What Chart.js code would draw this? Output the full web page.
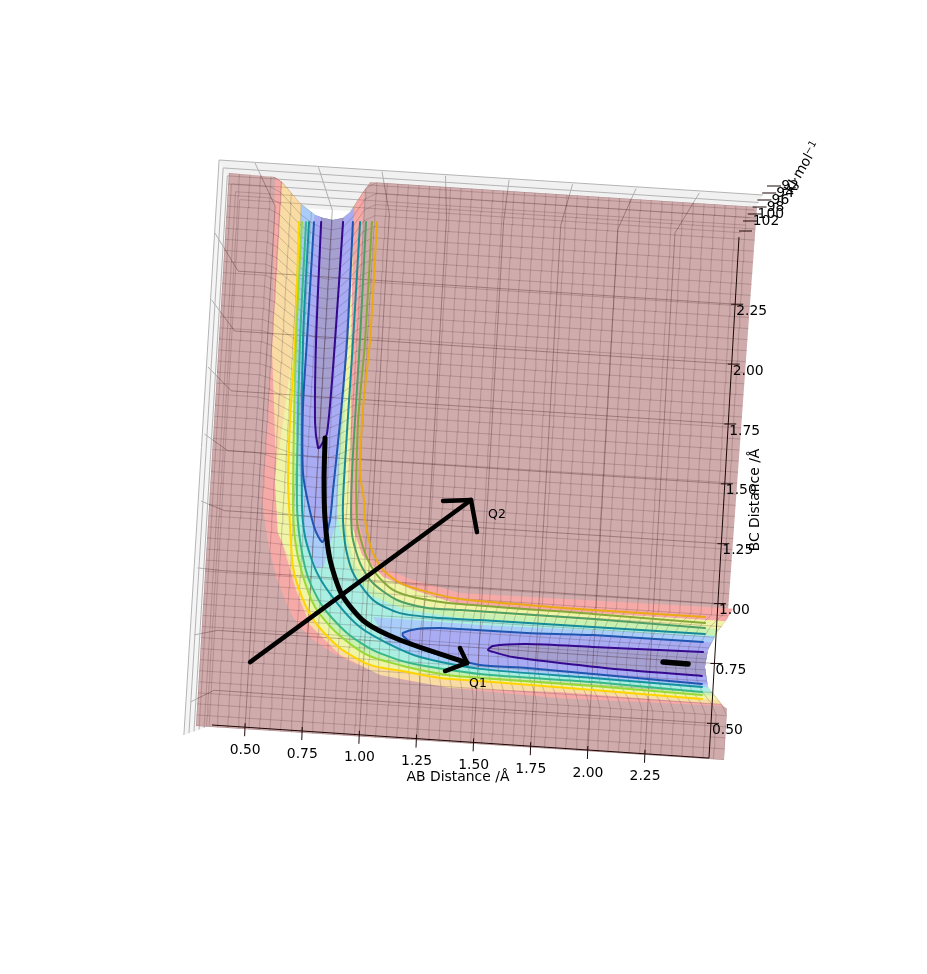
<!DOCTYPE html>
<html><head><meta charset="utf-8">
<style>html,body{margin:0;padding:0;background:#fff}canvas{display:block}</style>
<script src="https://cdn.jsdelivr.net/npm/chart.js@4"></script>
</head><body><canvas id="c" width="927" height="974"></canvas>
<script>
// ---- tick labels ----
const abTicks=[0.5,0.75,1,1.25,1.5,1.75,2,2.25];
const bcTicks=[0.5,0.75,1,1.25,1.5,1.75,2,2.25];
const zTicks=[92,94,96,98,100,102];
const abWallU=[.543,.821,1.099,1.377,1.655,1.933,2.211,2.488];
const abWallV=[2.702,2.684,2.666,2.648,2.631,2.613,2.595,2.577];
const bcWallU=[.261,.276,.292,.307,.322,.337,.353,.368];
const bcWallV=[.451,.731,1.011,1.29,1.57,1.85,2.13,2.409];
const paneCorners={outerTL:[.386,2.714],outerTR:[2.766,2.568],floorTR:[2.661,2.393],floorTL:[.486,2.53],floorBL:[.355,.355],outerBL:[.232,.313]};

// ---- surface outline, AB / BC distance in Angstrom ----
const topNotch=[[.538,2.496],[.568,2.478],[.646,2.401],[.71,2.359],[.743,2.349],[.784,2.344],[.824,2.354],[.851,2.379],[.899,2.46],[.925,2.5]];
const rightNotch=[[2.5,.55],[2.483,.559],[2.417,.629],[2.4,.705],[2.408,.772],[2.441,.844],[2.47,.885],[2.48,.9]];

// ---- contours: lower/left side and upper/right side of the valley ----
const level0Low=[[.646,2.328],[.659,1.87],[.658,1.558],[.664,1.326],[.674,1.229],[.705,.99],[.749,.876],[.808,.782],[.915,.688],[1.041,.63],[1.193,.612],[1.328,.597],[1.491,.595],[1.952,.588],[2.396,.581]];
const level0Up=[[.963,2.347],[.963,1.888],[.951,1.627],[.954,1.371],[.977,1.267],[.986,1.19],[1.021,1.075],[1.071,1.001],[1.143,.955],[1.255,.927],[1.39,.908],[1.663,.901],[1.932,.898],[2.388,.899]];
const level1Low=[[.658,2.328],[.663,1.87],[.689,1.25],[.707,1.095],[.743,.969],[.804,.841],[.899,.745],[1.027,.668],[1.192,.631],[1.356,.61],[1.49,.607],[1.951,.604],[2.395,.596]];
const level1Up=[[.942,2.346],[.943,1.887],[.934,1.564],[.953,1.188],[.994,1.062],[1.048,.98],[1.116,.926],[1.216,.901],[1.391,.888],[1.933,.883],[2.39,.876]];
const level2Low=[[.675,2.329],[.679,1.871],[.705,1.25],[.727,1.096],[.768,.955],[.836,.843],[.94,.748],[1.05,.688],[1.203,.647],[1.489,.622],[1.95,.619],[2.394,.608]];
const level2Up=[[.918,2.344],[.922,1.886],[.922,1.369],[.936,1.136],[.976,1.022],[1.033,.948],[1.135,.888],[1.259,.865],[1.393,.865],[1.934,.863],[2.391,.856]];
const level3Low=[[.687,2.33],[.691,1.872],[.725,1.252],[.747,1.109],[.804,.973],[.892,.862],[.991,.774],[1.105,.719],[1.242,.673],[1.488,.642],[1.949,.635],[2.393,.627]];
const level3Up=[[.894,2.343],[.894,1.884],[.892,1.262],[.91,1.096],[.95,.982],[1.038,.882],[1.15,.838],[1.314,.829],[1.476,.831],[1.936,.832],[2.392,.833]];
const level4Vert=[[.707,2.331],[.707,1.873],[.707,1.612],[.723,1.357],[.751,1.242],[.786,1.139],[.817,1.094],[.828,1.11],[.844,1.181],[.849,1.298],[.861,1.559],[.87,1.883],[.865,2.341]];
const level4Horiz=[[2.386,.802],[1.938,.801],[1.67,.793],[1.397,.791],[1.316,.79],[1.223,.781],[1.167,.762],[1.168,.75],[1.227,.711],[1.294,.692],[1.376,.674],[1.487,.657],[1.679,.657],[1.948,.65],[2.392,.639]];
const level5Vert=[[.736,2.333],[.744,1.875],[.76,1.553],[.778,1.457],[.786,1.462],[.811,1.517],[.821,1.88],[.825,2.339]];
const level5Horiz=[[2.389,.763],[1.941,.755],[1.673,.75],[1.535,.734],[1.516,.717],[1.537,.711],[1.619,.696],[1.811,.685],[2.085,.674],[2.39,.67]];

// ---- coloured facet bands of the surface ----
const salmonLow=[[.538,2.496],[.568,1.825],[.564,1.358],[.563,1.242],[.598,1.077],[.639,.947],[.681,.86],[.717,.796],[.761,.748],[.804,.712],[.888,.667],[.972,.633],[1.179,.58],[1.453,.558],[1.82,.548],[2.483,.559]];
const salmonUp=[[.904,2.312],[.917,1.847],[.958,1.188],[1.006,1.055],[1.07,1.009],[1.195,.97],[1.389,.931],[2.398,.938]];
const tanLow=[[.568,2.478],[.568,1.825],[.622,1.273],[.659,1.073],[.723,.902],[.788,.77],[.917,.661],[1.084,.593],[1.371,.56],[1.818,.572],[2.47,.565]];
const tanUp=[[.867,2.31],[.888,1.845],[.925,1.186],[.982,1.054],[1.073,.974],[1.197,.931],[1.392,.884],[2.409,.888]];
const yellowLow=[[.65,2.4],[.655,1.87],[.63,1.55],[.61,1.33],[.635,1.12],[.705,.99],[.749,.876],[.808,.782],[.915,.688],[1.041,.63],[1.193,.612],[1.328,.597],[1.491,.595],[1.952,.588],[2.396,.581]];
const greenUp=[[.855,2.37],[.865,1.882],[.897,1.184],[.956,1.013],[1.043,.921],[1.168,.878],[1.393,.857],[2.391,.856]];
const cyanUp=[[.84,2.37],[.845,1.88],[.875,1.19],[.93,1],[1.03,.9],[1.16,.855],[1.39,.835],[2.39,.83]];
const blueVert=[[.652,2.38],[.664,1.872],[.68,1.55],[.725,1.252],[.747,1.109],[.8,.99],[.83,1],[.872,1.183],[.849,1.881],[.82,2.36]];
const blueHoriz=[[2.39,.825],[1.94,.82],[1.478,.812],[1.042,.816],[1.105,.719],[1.242,.673],[1.488,.642],[1.949,.635],[2.393,.627]];

// ---- hand-drawn reaction path and arrows ----
const pathCurve=[[.804,1.498],[.81,1.335],[.824,1.18],[.854,1.026],[.911,.894],[1.01,.795],[1.157,.734],[1.434,.662]];
const q1Head=[[1.402,.718],[1.434,.662],[1.347,.625]];
const q2Shaft=[[.554,.611],[1.411,1.294]];
const q2Head=[[1.298,1.283],[1.411,1.294],[1.443,1.171]];
const endMark=[[2.229,.714],[2.331,.713]];

// ---- view tilt ----
const tilt=([a,b])=>({x:a+.0623*(b-.35),y:b-.0614*(a-.35)});
const floorPt=(ab,bc)=>({x:ab+.0604*(bc-.355),y:bc-.0635*(ab-.355)});
const rawPt=([u,v])=>({x:u,y:v});
const lerp=(p,q,t)=>[p[0]+(q[0]-p[0])*t,p[1]+(q[1]-p[1])*t];
function lookup(tbl,k,vi){
  const ki=1-vi;
  if(k<=tbl[0][ki])return tbl[0][vi];
  for(let i=1;i<tbl.length;i++) if(k<=tbl[i][ki]){const t=(k-tbl[i-1][ki])/(tbl[i][ki]-tbl[i-1][ki]);return tbl[i-1][vi]+t*(tbl[i][vi]-tbl[i-1][vi]);}
  return tbl[tbl.length-1][vi];
}
const topEdge=a=>(a<topNotch[0][0]||a>topNotch[topNotch.length-1][0])?2.5:lookup(topNotch,a,1);
const rightEdge=b=>(b<rightNotch[0][1]||b>rightNotch[rightNotch.length-1][1])?2.5:lookup(rightNotch,b,0);

function band(low,up){
  const l0=low[0],l1=low[low.length-1],u0=up[0],u1=up[up.length-1];
  const rn=rightNotch.filter(p=>p[1]>l1[1]&&p[1]<u1[1]);
  const tn=topNotch.filter(p=>p[0]>l0[0]&&p[0]<u0[0]).reverse();
  return [[l0[0],topEdge(l0[0])],...low,[rightEdge(l1[1]),l1[1]],...rn,[rightEdge(u1[1]),u1[1]],...up.slice().reverse(),[u0[0],topEdge(u0[0])],...tn];
}
function tongueTop(p){
  const s=p[0],e=p[p.length-1];
  const tn=topNotch.filter(q=>q[0]>s[0]&&q[0]<e[0]).reverse();
  return [[s[0],topEdge(s[0])],...p,[e[0],topEdge(e[0])],...tn];
}
function tongueRight(p){
  const s=p[0],e=p[p.length-1];
  const rn=rightNotch.filter(q=>q[1]>e[1]&&q[1]<s[1]);
  return [[rightEdge(s[1]),s[1]],...p,[rightEdge(e[1]),e[1]],...rn];
}
const surfaceOutline=[[.35,.35],[2.5,.35],[2.5,.55],...rightNotch.slice(1),[2.5,2.5],...topNotch.slice().reverse(),[.35,2.5]];

const datasets=[];
const add=(d)=>{datasets.push(Object.assign({showLine:true,pointRadius:0,borderWidth:0,borderColor:'transparent',xAxisID:'x',yAxisID:'y',tension:0},d));};
const poly=(path,color,label)=>add({label,data:path.map(tilt),polygonFill:color,showLine:false});
const floorPoly=(path,color,label)=>add({label,data:path.map(rawPt),polygonFill:color,showLine:false,xAxisID:'xf',yAxisID:'yf'});
const curve=(path,color,w,label)=>add({label,data:path.map(tilt),borderColor:color,borderWidth:w,tension:.25,borderCapStyle:'round',borderJoinStyle:'round'});
const floorLine=(pts,color,w,label,clip)=>add({label,data:pts,borderColor:color,borderWidth:w,xAxisID:'xf',yAxisID:'yf',clipSurface:!!clip});

const P=paneCorners;
floorPoly([P.outerTL,P.outerTR,P.floorTR,P.floorTL],'#f1f1f1','top pane');
floorPoly([P.outerBL,P.outerTL,P.floorTL,P.floorBL],'#f5f5f5','left pane');
function frames(color,w,clip,prefix){
  zTicks.forEach(z=>{
    const t=(z-92)*.09;
    floorLine([lerp(P.outerBL,P.floorBL,t),lerp(P.outerTL,P.floorTL,t),lerp(P.outerTR,P.floorTR,t)].map(rawPt),color,w,prefix+' z'+z,clip);
  });
}
function gridLines(color,w,clip,prefix){
  abTicks.forEach((k,i)=>floorLine([floorPt(k,.355),floorPt(k,2.53),{x:abWallU[i],y:abWallV[i]}],color,w,prefix+' ab'+k,clip));
  bcTicks.forEach((k,i)=>floorLine([floorPt(2.53,k),floorPt(.355,k),{x:bcWallU[i],y:bcWallV[i]}],color,w,prefix+' bc'+k,clip));
}
frames('#b4b4b4',1,false,'frame');
gridLines('#b0b0b0',1,false,'grid');

poly(surfaceOutline,'#d0abab','surface');
poly(band(salmonLow,salmonUp),'#f6aaa7','salmon band');
poly(band(tanLow,tanUp),'#f8dca3','tan band');
poly(band(yellowLow,tanUp),'#eff4a6','yellow band');
poly(band(level1Low,greenUp),'#c9f2b2','green band');
poly(band(level2Low,cyanUp),'#aaefe2','cyan band');
poly(tongueTop(blueVert),'#a9cdf8','blue band v');
poly(tongueRight(blueHoriz),'#a9cdf8','blue band h');
poly(tongueTop(level4Vert),'#a9acf3','violet band v');
poly(tongueRight(level4Horiz),'#a9acf3','violet band h');
poly(tongueTop(level5Vert),'#a5a0d0','core band v');
poly(tongueRight(level5Horiz),'#a5a0d0','core band h');

const meshStops=Array.from({length:51},(_,i)=>.35+i*.043);
const clamp01=v=>Math.max(0,Math.min(1,v));
const warp=(a,b)=>{
  const b2=b-(2.5-topEdge(a))*clamp01((b-1)/1.5);
  const a2=a-(2.5-rightEdge(b))*clamp01((a-1)/1.5);
  return tilt([a2,b2]);
};
const meshA=[],meshB=[];
meshStops.forEach(s=>{
  meshStops.forEach(t=>{meshA.push(warp(s,t));meshB.push(warp(t,s));});
  meshA.push({x:NaN,y:NaN});meshB.push({x:NaN,y:NaN});
});
add({label:'mesh a',data:meshA,borderColor:'rgba(70,50,60,.33)',borderWidth:.7,spanGaps:false,clipSurface:true});
add({label:'mesh b',data:meshB,borderColor:'rgba(70,50,60,.33)',borderWidth:.7,spanGaps:false,clipSurface:true});

frames('rgba(70,30,30,.2)',1,true,'frame over');
gridLines('rgba(60,25,25,.33)',1,true,'grid over');

curve(level0Low,'#ffd400',2,'contour 0 low');
curve(level0Up,'#eaa915',2,'contour 0 up');
curve(level1Low,'#9ad838',2,'contour 1 low');
curve(level1Up,'#86a83a',2,'contour 1 up');
curve(level2Low,'#38b888',2,'contour 2 low');
curve(level2Up,'#4e9e66',2,'contour 2 up');
curve(level3Low,'#14929f',2,'contour 3 low');
curve(level3Up,'#178a98',2,'contour 3 up');
curve(level4Vert,'#2055b0',2,'contour 4 v');
curve(level4Horiz,'#2055b0',2,'contour 4 h');
curve(level5Vert,'#34098f',2,'contour 5 v');
curve(level5Horiz,'#34098f',2,'contour 5 h');

floorLine([floorPt(.355,.355),floorPt(2.53,.355),floorPt(2.53,2.53)],'#1c0808',1,'axis lines');

curve(pathCurve,'#000',5,'reaction path');
add({label:'Q1 head',data:q1Head.map(tilt),borderColor:'#000',borderWidth:4.5,borderCapStyle:'round',borderJoinStyle:'round'});
add({label:'Q2 shaft',data:q2Shaft.map(tilt),borderColor:'#000',borderWidth:4.5,borderCapStyle:'round'});
add({label:'Q2 head',data:q2Head.map(tilt),borderColor:'#000',borderWidth:4.5,borderCapStyle:'round',borderJoinStyle:'round'});
add({label:'end mark',data:endMark.map(tilt),borderColor:'#000',borderWidth:5.5,borderCapStyle:'round'});

datasets.forEach((d,i)=>{d.order=datasets.length-i;});

function tracePts(ctx,pts){ctx.beginPath();pts.forEach((p,i)=>i?ctx.lineTo(p.x,p.y):ctx.moveTo(p.x,p.y));ctx.closePath();}
const surfacePlugin={id:'surfacePlugin',
  beforeDatasetDraw(chart,args){
    const ds=chart.data.datasets[args.index],ctx=chart.ctx;
    if(ds.polygonFill){ctx.save();tracePts(ctx,args.meta.data);ctx.fillStyle=ds.polygonFill;ctx.fill();ctx.restore();}
    if(ds.clipSurface){
      const idx=chart.data.datasets.findIndex(d=>d.label==='surface');
      ctx.save();tracePts(ctx,chart.getDatasetMeta(idx).data);ctx.clip();
    }
  },
  afterDatasetDraw(chart,args){
    const ds=chart.data.datasets[args.index];
    if(ds.clipSurface)chart.ctx.restore();
  },
  afterDatasetsDraw(chart){
    const ctx=chart.ctx,{xf,yf,zs}=chart.scales;
    const px=p=>[xf.getPixelForValue(p.x),yf.getPixelForValue(p.y)];
    ctx.save();
    ctx.fillStyle='#000';ctx.strokeStyle='#1c0808';ctx.lineWidth=1;
    ctx.font='13.9px "DejaVu Sans"';
    ctx.textBaseline='middle';
    ctx.textAlign='center';
    abTicks.forEach(k=>{
      const [x,y]=px(floorPt(k,.355));
      ctx.beginPath();ctx.moveTo(x,y-4);ctx.lineTo(x-.5,y+9);ctx.stroke();
      ctx.fillText(k.toFixed(2),x,y+23);
    });
    ctx.textAlign='left';
    bcTicks.forEach(k=>{
      const [x,y]=px(floorPt(2.53,k));
      ctx.beginPath();ctx.moveTo(x-4,y);ctx.lineTo(x+8,y);ctx.stroke();
      ctx.fillText(k.toFixed(2),x+1,y+7);
    });
    ctx.textAlign='center';
    zTicks.forEach(z=>{
      const y=zs.getPixelForValue(z);
      const x=766+(102-z)*2.4;
      ctx.beginPath();ctx.moveTo(x-23,y);ctx.lineTo(x-9,y);ctx.stroke();
      ctx.fillText(String(z),x,y);
    });
    ctx.beginPath();ctx.moveTo(739,231);ctx.lineTo(752,231);ctx.stroke();
    ctx.fillText('AB Distance /Å',458,777);
    ctx.save();ctx.translate(755,500);ctx.rotate(-Math.PI/2);ctx.fillText('BC Distance /Å',0,0);ctx.restore();
    ctx.save();ctx.translate(817,143);ctx.rotate(-Math.PI/3);ctx.textAlign='right';
    ctx.font='10px "DejaVu Sans"';ctx.fillText('−1',0,-3);
    ctx.font='13.9px "DejaVu Sans"';ctx.fillText('kJ·mol',-14,0);ctx.restore();
    ctx.font='12.5px "DejaVu Sans"';
    ctx.fillText('Q1',478,684);
    ctx.fillText('Q2',497,515);
    ctx.restore();
  }
};

const hidden={display:false};
new Chart(document.getElementById('c'),{
  type:'scatter',
  data:{datasets},
  plugins:[surfacePlugin],
  options:{
    responsive:false,animation:false,devicePixelRatio:1,
    layout:{padding:0},
    plugins:{legend:{display:false},tooltip:{enabled:false}},
    events:[],
    scales:{
      x:{...hidden,type:'linear',axis:'x',min:-.448,max:3.3265},
      y:{...hidden,type:'linear',axis:'y',min:-.6142,max:3.1727},
      xf:{...hidden,type:'linear',axis:'x',min:-.5728,max:3.4841},
      yf:{...hidden,type:'linear',axis:'y',min:-.6847,max:3.3821},
      zs:{...hidden,type:'linear',axis:'y',reverse:true,min:38.857,max:317.14}
    }
  }
});
</script></body></html>
